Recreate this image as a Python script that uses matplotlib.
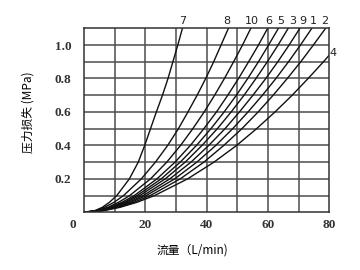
import matplotlib
matplotlib.use("Agg")
import matplotlib.pyplot as plt
import matplotlib.transforms as mtransforms

###############################################################################
# Data: flow (L/min) where each curve crosses a pressure level

p_levels = [0, 0.01, 0.03, 0.06, 0.1, 0.2, 0.3, 0.4, 0.5, 0.6, 0.7, 0.8, 0.9, 1.0, 1.1]

q_7 = [0, 3.6, 6.0, 8.3, 10.7, 14.8, 17.7, 19.8, 21.7, 23.6, 25.6, 27.4, 29.0, 30.6, 32.1]
q_8 = [0, 3.7, 6.7, 9.8, 12.9, 18.7, 23.3, 27.3, 30.8, 33.9, 36.9, 39.7, 42.3, 44.7, 47.1]
q_10 = [0, 4.3, 7.8, 11.3, 14.9, 21.7, 27.0, 31.5, 35.5, 39.2, 42.6, 45.8, 48.8, 51.7, 54.4]
q_6 = [0, 4.7, 8.5, 12.4, 16.4, 23.8, 29.7, 34.7, 39.1, 43.2, 46.9, 50.4, 53.7, 56.9, 59.9]
q_5 = [0, 5.0, 9.0, 13.2, 17.3, 25.2, 31.4, 36.7, 41.4, 45.7, 49.7, 53.4, 56.9, 60.2, 63.4]
q_3 = [0, 5.2, 9.5, 13.8, 18.2, 26.5, 33.0, 38.5, 43.5, 48.0, 52.2, 56.1, 59.8, 63.3, 66.6]
q_9 = [0, 5.5, 10.0, 14.6, 19.3, 28.0, 34.9, 40.7, 46.0, 50.7, 55.1, 59.3, 63.2, 66.9, 70.4]
q_1 = [0, 5.9, 10.6, 15.4, 20.3, 29.6, 36.8, 43.0, 48.5, 53.5, 58.2, 62.6, 66.7, 70.6, 74.3]
q_2 = [0, 6.2, 11.2, 16.4, 21.6, 31.4, 39.1, 45.6, 51.5, 56.8, 61.7, 66.3, 70.7, 74.8, 78.8]

# curve 4 ends at the right edge below the top
p_4 = [0, 0.01, 0.03, 0.06, 0.1, 0.2, 0.3, 0.4, 0.5, 0.6, 0.7, 0.8, 0.9, 0.94]
q_4 = [0, 6.4, 11.8, 17.3, 23.0, 33.8, 42.4, 49.8, 56.3, 62.3, 67.9, 73.1, 78.1, 80.0]

curve_names = ["7", "8", "10", "6", "5", "3", "9", "1", "2"]
curve_flows = [q_7, q_8, q_10, q_6, q_5, q_3, q_9, q_1, q_2]
label_nudge = [0.1, -0.6, 0.5, 0.5, 0.8, 1.3, 1.1, 0.5, -0.4]

x_ticks = [0, 20, 40, 60, 80]
y_ticks = [0.2, 0.4, 0.6, 0.8, 1.0]

###############################################################################
# Plot

cjk = ["Noto Sans CJK SC", "DejaVu Sans"]

fig = plt.figure(figsize=(3.6, 2.7), dpi=100)
ax = fig.add_axes([0.2333, 0.2137, 0.6814, 0.6815])

for q in curve_flows:
    ax.plot(q, p_levels, color="#111111", linewidth=1.0)
ax.plot(q_4, p_4, color="#111111", linewidth=1.0)

# curve numbers above the top edge
for name, q, dx in zip(curve_names, curve_flows, label_nudge):
    ax.text(q[-1] + dx, 1.145, name, ha="center", va="center",
            fontsize=8, family="DejaVu Sans", color="#222222", clip_on=False)
ax.text(q_4[-1] + 1.3, p_4[-1] + 0.01, "4", ha="center", va="center",
        fontsize=8, family="DejaVu Sans", color="#222222", clip_on=False)

ax.set_xlim(0, 80)
ax.set_ylim(0, 1.1)

# grid every 10 L/min and every 0.1 MPa
for gx in range(10, 80, 10):
    ax.axvline(gx, color="#4d4d4d", linewidth=1.1, zorder=0)
for i in range(1, 11):
    ax.axhline(i / 10, color="#4d4d4d", linewidth=1.1, zorder=0)
for s in ax.spines.values():
    s.set_color("#333333")
    s.set_linewidth(1.1)

ax.set_xticks(x_ticks)
ax.set_xticklabels([str(v) for v in x_ticks])
ax.set_yticks(y_ticks)
ax.set_yticklabels(["%.1f" % v for v in y_ticks])
ax.tick_params(length=0, labelsize=9.5)
ax.tick_params(axis="x", pad=5)
ax.tick_params(axis="y", pad=9)
for lab in ax.get_xticklabels() + ax.get_yticklabels():
    lab.set_family("Liberation Serif")
    lab.set_weight("bold")
    lab.set_color("#333333")

# the "0" sits left of the corner in the original
zero = ax.get_xticklabels()[0]
zero.set_transform(zero.get_transform() +
                   mtransforms.ScaledTranslation(-11 / 100, 0, fig.dpi_scale_trans))

ax.set_xlabel("流量（L/min)", family=cjk, fontsize=8.5, va="center")
ax.xaxis.set_label_coords(0.44, -0.205)
ax.set_ylabel("压力损失 (MPa)", family=cjk, fontsize=8.5, va="center")
ax.yaxis.set_label_coords(-0.228, 0.545)

fig.savefig("out.png", dpi=100)
